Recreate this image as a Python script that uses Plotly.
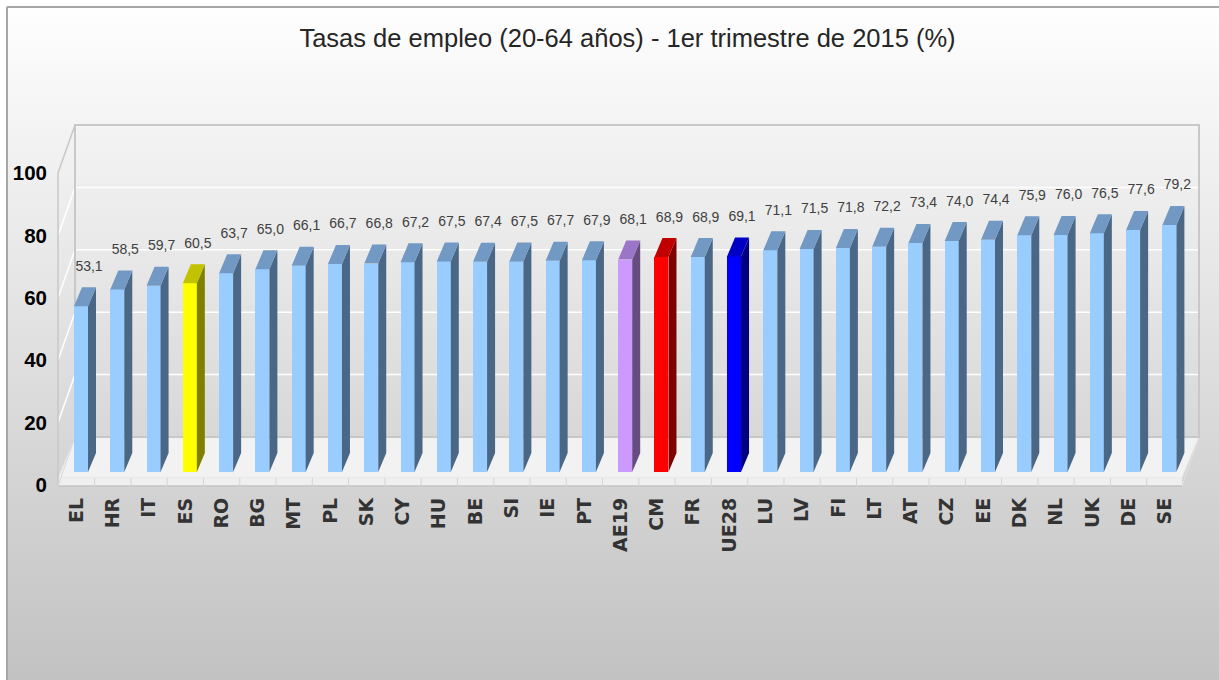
import plotly.graph_objects as go

# ---------------- data ----------------
categories = ["EL", "HR", "IT", "ES", "RO", "BG", "MT", "PL", "SK", "CY", "HU", "BE",
              "SI", "IE", "PT", "AE19", "CM", "FR", "UE28", "LU", "LV", "FI", "LT",
              "AT", "CZ", "EE", "DK", "NL", "UK", "DE", "SE"]
values = [53.1, 58.5, 59.7, 60.5, 63.7, 65.0, 66.1, 66.7, 66.8, 67.2, 67.5, 67.4,
          67.5, 67.7, 67.9, 68.1, 68.9, 68.9, 69.1, 71.1, 71.5, 71.8, 72.2,
          73.4, 74.0, 74.4, 75.9, 76.0, 76.5, 77.6, 79.2]
y_ticks = [0, 20, 40, 60, 80, 100]
title_text = "Tasas de empleo (20-64 años) - 1er trimestre de 2015 (%)"

# ---------------- styles ----------------
# (front, top, side) colours
default_colors = ("#99ccff", "#7199c3", "#4a6785")
highlight_colors = {
    "ES": ("#ffff00", "#c2c200", "#808000"),
    "AE19": ("#cc99ff", "#9b76c8", "#664c80"),
    "CM": ("#ff0000", "#c00000", "#800000"),
    "UE28": ("#0000ff", "#0000c4", "#000080"),
}

PAGE_OFF = 0                       # body margin removed by post_script
W, H = 1219 - PAGE_OFF, 680 - PAGE_OFF
# plot area in page pixels
PL_PX, PR_PX, PT_PX, PB_PX = 50, 1205, 110, 497
ML = PL_PX - PAGE_OFF
MR = W - (PR_PX - PAGE_OFF)
MT = PT_PX - PAGE_OFF
MB = H - (PB_PX - PAGE_OFF)

PX_PER_X = 36.28
X0_PX = 76.5       # page px of category 0
PX_PER_Y = 3.12
Y0_PX = 485        # page px of value 0

x_lo = (PL_PX - X0_PX) / PX_PER_X
x_hi = (PR_PX - X0_PX) / PX_PER_X
y_hi = (Y0_PX - PT_PX) / PX_PER_Y
y_lo = (Y0_PX - PB_PX) / PX_PER_Y

# 3-D projection geometry (data units)
WALL_DX = 17 / PX_PER_X
WALL_DY = 48 / PX_PER_Y
FLOOR_TOP = (Y0_PX - 478) / PX_PER_Y
FLOOR_BOT = (Y0_PX - 486) / PX_PER_Y
LEFT_X = (58 - X0_PX) / PX_PER_X
RIGHT_X = (1182 - X0_PX) / PX_PER_X
BACK_Y0 = (Y0_PX - 437) / PX_PER_Y
SEP_BOT = (Y0_PX - 495) / PX_PER_Y

BAR_OFF = 4.5 / PX_PER_X
BAR_W = 14 / PX_PER_X
BAR_BASE = (Y0_PX - 472) / PX_PER_Y
BAR_DX = 8 / PX_PER_X
BAR_DY = 19 / PX_PER_Y
LBL_DX = 8 / PX_PER_X
LBL_DY = 39 / PX_PER_Y

PW = W - ML - MR
PH = H - MT - MB


def xp(page_px):
    return (page_px - PAGE_OFF - ML) / PW


def yp(page_py):
    return (H - MB - (page_py - PAGE_OFF)) / PH


shapes = []
# background gradient (paper)
step = 8
for py in range(PAGE_OFF, 680, step):
    g = int(round(255 - 61 * (py + step / 2) / 680))
    col = f"rgb({g},{g},{g})"
    shapes.append(dict(type="rect", xref="paper", yref="paper",
                       x0=xp(PAGE_OFF - 2), x1=xp(1219 + 2), y0=yp(py + step + 1), y1=yp(py),
                       fillcolor=col, line=dict(width=0), layer="below"))
# page outside the chart frame is white
shapes.append(dict(type="rect", xref="paper", yref="paper", x0=xp(-2), x1=xp(1221),
                   y0=yp(6), y1=yp(-2), fillcolor="#ffffff", line=dict(width=0), layer="below"))
shapes.append(dict(type="rect", xref="paper", yref="paper", x0=xp(-2), x1=xp(6),
                   y0=yp(682), y1=yp(-2), fillcolor="#ffffff", line=dict(width=0), layer="below"))
# outer border (top & left)
shapes.append(dict(type="line", xref="paper", yref="paper", x0=xp(7), x1=xp(1221),
                   y0=yp(7), y1=yp(7), line=dict(color="#a6a6a6", width=2), layer="below"))
shapes.append(dict(type="line", xref="paper", yref="paper", x0=xp(7), x1=xp(7),
                   y0=yp(7), y1=yp(682), line=dict(color="#a6a6a6", width=2), layer="below"))

BL = LEFT_X + WALL_DX
BR = RIGHT_X + WALL_DX
WALL_TOP = y_ticks[-1] + WALL_DY
# floor top face
shapes.append(dict(type="path", xref="x", yref="y",
                   path=f"M {LEFT_X},{FLOOR_TOP} L {RIGHT_X},{FLOOR_TOP} L {BR},{BACK_Y0} L {BL},{BACK_Y0} Z",
                   fillcolor="#f2f2f2", line=dict(color="#e0e0e0", width=1), layer="below"))
# floor front face
shapes.append(dict(type="rect", xref="x", yref="y", x0=LEFT_X, x1=RIGHT_X,
                   y0=FLOOR_BOT, y1=FLOOR_TOP, fillcolor="#efefef",
                   line=dict(width=0), layer="below"))
shapes.append(dict(type="line", xref="x", yref="y", x0=LEFT_X, x1=RIGHT_X,
                   y0=FLOOR_BOT, y1=FLOOR_BOT, line=dict(color="#c4c4c4", width=1.5), layer="below"))
shapes.append(dict(type="line", xref="x", yref="y", x0=RIGHT_X, x1=BR,
                   y0=FLOOR_BOT, y1=BACK_Y0, line=dict(color="#e2e2e2", width=1), layer="below"))
# back wall and left wall gridlines
for t in y_ticks[1:-1]:
    shapes.append(dict(type="line", xref="x", yref="y", x0=BL, x1=BR,
                       y0=t + WALL_DY, y1=t + WALL_DY,
                       line=dict(color="#ffffff", width=1.5), layer="below"))
    shapes.append(dict(type="line", xref="x", yref="y", x0=LEFT_X, x1=BL,
                       y0=t, y1=t + WALL_DY,
                       line=dict(color="#ffffff", width=1.5), layer="below"))
# back wall frame
shapes.append(dict(type="rect", xref="x", yref="y", x0=BL, x1=BR, y0=BACK_Y0, y1=WALL_TOP,
                   line=dict(color="#c8c8c8", width=2), layer="below"))
# left wall frame
shapes.append(dict(type="path", xref="x", yref="y",
                   path=f"M {LEFT_X},{FLOOR_BOT} L {LEFT_X},{y_ticks[-1]} L {BL},{WALL_TOP}",
                   line=dict(color="#c8c8c8", width=1.5), layer="below"))
shapes.append(dict(type="line", xref="x", yref="y", x0=LEFT_X, x1=BL,
                   y0=FLOOR_BOT, y1=BACK_Y0, line=dict(color="#d8d8d8", width=1), layer="below"))
# category separators
for i in range(len(categories) - 1):
    shapes.append(dict(type="line", xref="x", yref="y", x0=i + 0.5, x1=i + 0.5,
                       y0=SEP_BOT, y1=FLOOR_TOP, line=dict(color="#d4d4d4", width=1), layer="below"))

fig = go.Figure()

# side and top faces, grouped by colour
groups = {}
for i, (c, v) in enumerate(zip(categories, values)):
    cols = highlight_colors.get(c, default_colors)
    groups.setdefault(cols, []).append((i, v))

for cols, items in groups.items():
    sx, sy, tx, ty = [], [], [], []
    for i, v in items:
        xr = i + BAR_OFF + BAR_W / 2
        xl = xr - BAR_W
        top = BAR_BASE + v
        sx += [xr, xr + BAR_DX, xr + BAR_DX, xr, xr, None]
        sy += [BAR_BASE, BAR_BASE + BAR_DY, top + BAR_DY, top, BAR_BASE, None]
        tx += [xl, xr, xr + BAR_DX, xl + BAR_DX, xl, None]
        ty += [top, top, top + BAR_DY, top + BAR_DY, top, None]
    fig.add_trace(go.Scatter(x=sx, y=sy, mode="lines", fill="toself", fillcolor=cols[2],
                             line=dict(width=0, color=cols[2]), hoverinfo="skip", showlegend=False))
    fig.add_trace(go.Scatter(x=tx, y=ty, mode="lines", fill="toself", fillcolor=cols[1],
                             line=dict(width=0, color=cols[1]), hoverinfo="skip", showlegend=False))

# front faces
fig.add_trace(go.Bar(
    x=[i + BAR_OFF for i in range(len(categories))],
    y=values,
    base=BAR_BASE,
    width=BAR_W,
    marker=dict(color=[highlight_colors.get(c, default_colors)[0] for c in categories],
                line=dict(width=0)),
    hovertext=categories,
    showlegend=False,
))

# value labels
fig.add_trace(go.Scatter(
    x=[i + BAR_OFF + LBL_DX for i in range(len(categories))],
    y=[BAR_BASE + v + LBL_DY for v in values],
    mode="text",
    text=[f"{v:.1f}".replace(".", ",") for v in values],
    textposition="middle center",
    textfont=dict(family="Liberation Sans, Arial, sans-serif", size=14, color="#404040"),
    hoverinfo="skip",
    showlegend=False,
))

fig.update_layout(
    width=W, height=H,
    margin=dict(l=ML, r=MR, t=MT, b=MB, pad=0, autoexpand=False),
    paper_bgcolor="#ffffff",
    plot_bgcolor="rgba(0,0,0,0)",
    shapes=shapes,
    bargap=0,
    title=dict(text=title_text, x=0.5, xref="paper", xanchor="center",
               y=1 - (38 - PAGE_OFF) / H, yanchor="middle",
               font=dict(family="Liberation Sans, Arial, sans-serif", size=25.5, color="#262626")),
    xaxis=dict(range=[x_lo, x_hi], tickmode="array", tickvals=list(range(len(categories))),
               ticktext=categories, tickangle=-90, showgrid=False, zeroline=False,
               showline=False, ticks="", ticklabelstandoff=-4, fixedrange=True,
               automargin=False,
               tickfont=dict(family="DejaVu Sans, sans-serif", size=19, color="#333333",
                             weight="bold")),
    yaxis=dict(range=[y_lo, y_hi], tickmode="array", tickvals=y_ticks,
               showgrid=False, zeroline=False, showline=False, ticks="",
               ticklabelstandoff=2, fixedrange=True, automargin=False,
               tickfont=dict(family="Liberation Sans, Arial, sans-serif",
                             size=20.5, color="#000000", weight="bold")),
)

fig.write_html("out.html",
               config={"displayModeBar": False},
               post_script="document.body.style.margin='0';document.body.style.overflow='hidden';")
